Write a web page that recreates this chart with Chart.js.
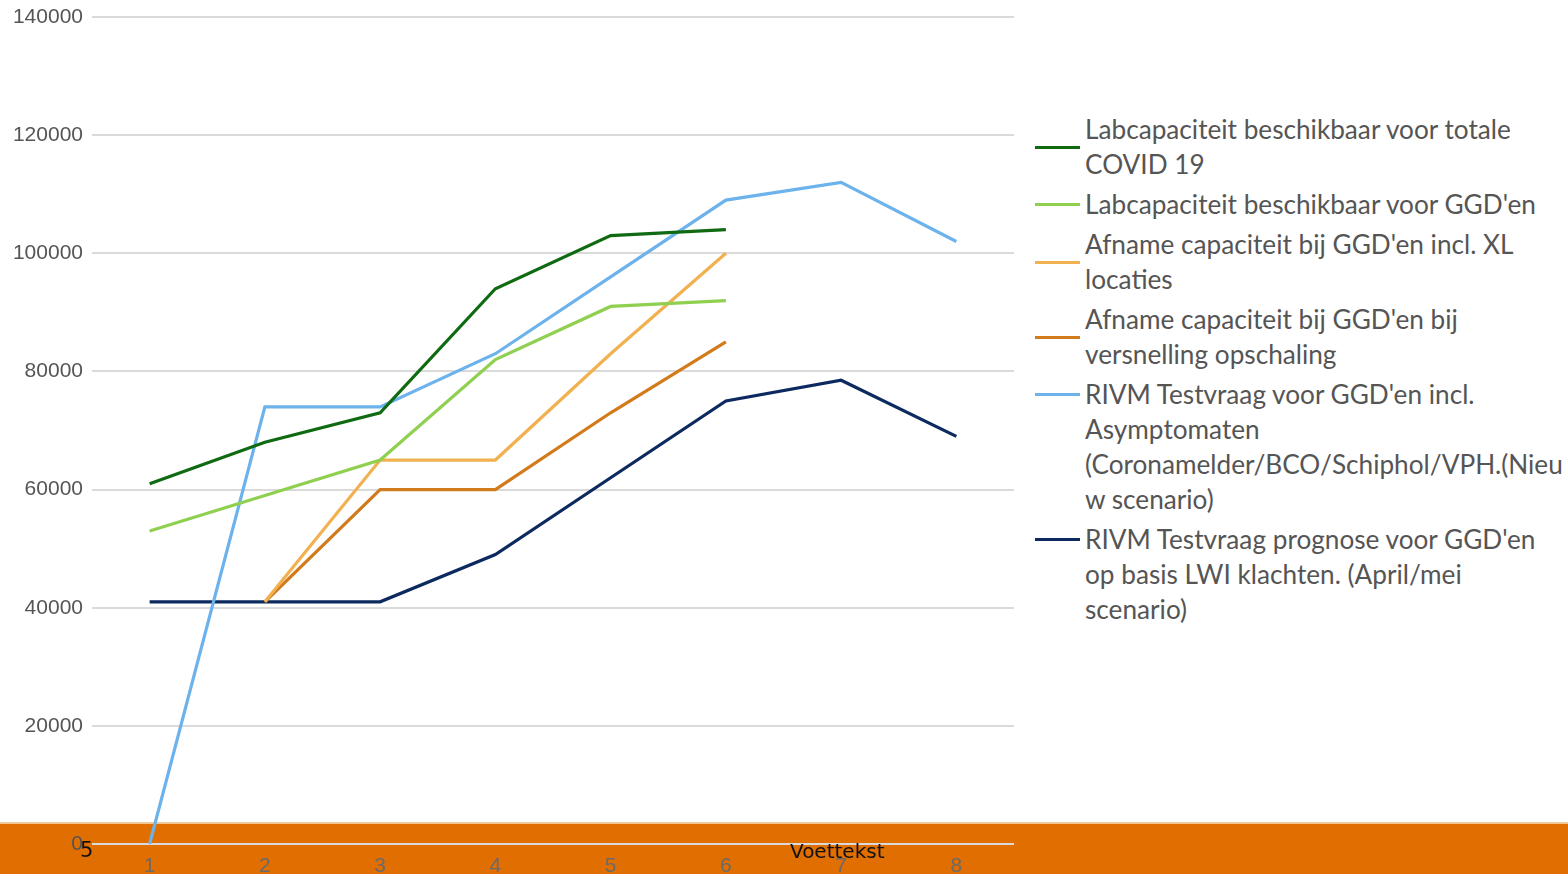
<!DOCTYPE html>
<html>
<head>
<meta charset="utf-8">
<script src="https://cdn.jsdelivr.net/npm/chart.js@4/dist/chart.umd.min.js"></script>
<style>
  html, body { margin: 0; padding: 0; width: 1568px; height: 874px; overflow: hidden; background: #ffffff; }
  #band { position: absolute; left: 0; top: 822px; width: 1568px; height: 52px; background: #e06e00; border-top: 2px solid #f0c89a; box-sizing: border-box; z-index: 0; }
  #wrap { position: absolute; left: 0; top: 0; width: 1030px; height: 900px; z-index: 1; }
  #legend { position: absolute; left: 1035px; top: 112px; z-index: 2; font-family: Lato, "Open Sans", sans-serif; font-size: 26.2px; color: #555555; }
  .item { display: flex; align-items: flex-start; margin-bottom: 5px; }
  .sw-box { width: 50px; display: flex; align-items: center; flex: none; }
  .sw { width: 45px; height: 3px; }
  .txt { line-height: 35px; white-space: nowrap; }
  #pagenum { position: absolute; left: 80px; top: 838px; font-family: "DejaVu Sans", sans-serif; font-size: 21px; color: #111; z-index: 3; line-height: 24px; }
  #footer { position: absolute; left: 790px; top: 839px; font-family: "DejaVu Sans", sans-serif; font-size: 20px; color: #111; z-index: 3; line-height: 24px; }
</style>
</head>
<body>
<div id="band"></div>
<div id="wrap"><canvas id="c"></canvas></div>
<div id="legend"></div>
<div id="pagenum">5</div>
<div id="footer">Voettekst</div>
<script>
const categories = ['1', '2', '3', '4', '5', '6', '7', '8'];
const yTicks = [0, 20000, 40000, 60000, 80000, 100000, 120000, 140000];

const labTotal          = [61000, 68000, 73000, 94000, 103000, 104000, null, null];
const labGGD            = [53000, 59000, 65000, 82000, 91000, 92000, null, null];
const afnameXL          = [null, 41000, 65000, 65000, 83000, 100000, null, null];
const afnameVersnelling = [null, 41000, 60000, 60000, 73000, 85000, null, null];
const rivmAsymptomaten  = [0, 74000, 74000, 83000, 96000, 109000, 112000, 102000];
const rivmLWI           = [41000, 41000, 41000, 49000, 62000, 75000, 78500, 69000];

const seriesNames = [
  ['Labcapaciteit beschikbaar voor totale', 'COVID 19'],
  ["Labcapaciteit beschikbaar voor GGD'en"],
  ["Afname capaciteit bij GGD'en incl. XL", 'locaties'],
  ["Afname capaciteit bij GGD'en bij", 'versnelling opschaling'],
  ["RIVM Testvraag voor GGD'en incl.", 'Asymptomaten', '(Coronamelder/BCO/Schiphol/VPH.(Nieu', 'w scenario)'],
  ["RIVM Testvraag prognose voor GGD'en", 'op basis LWI klachten. (April/mei', 'scenario)']
];
const seriesColors = ['#0f6a12', '#8fd050', '#f2b150', '#d27b1c', '#6cb2ec', '#0c2a5f'];
const seriesData = [labTotal, labGGD, afnameXL, afnameVersnelling, rivmAsymptomaten, rivmLWI];

const datasets = seriesData.map((d, i) => ({
  label: seriesNames[i].join(' '),
  data: d,
  borderColor: seriesColors[i],
  backgroundColor: seriesColors[i],
  borderWidth: 3.2,
  pointRadius: 0,
  tension: 0,
  spanGaps: false
}));

const chart = new Chart(document.getElementById('c'), {
  type: 'line',
  data: { labels: categories, datasets },
  options: {
    responsive: true,
    maintainAspectRatio: false,
    animation: false,
    layout: { padding: { top: 17, right: 16, left: 0, bottom: 0 } },
    plugins: { legend: { display: false }, tooltip: { enabled: false } },
    scales: {
      x: {
        offset: true,
        grid: { display: false, drawTicks: false },
        border: { display: false },
        ticks: { color: '#6a6a6a', font: { family: 'Liberation Sans', size: 21 }, padding: 10, maxRotation: 0 },
        afterFit: (s) => { s.height = 56; s.paddingLeft = 0; s.paddingRight = 0; }
      },
      y: {
        min: 0, max: 140000,
        afterBuildTicks: (s) => { s.ticks = yTicks.map(v => ({ value: v })); },
        grid: { color: '#dadada', lineWidth: 2, drawTicks: false },
        border: { display: false },
        ticks: { color: '#555555', font: { family: 'Liberation Sans', size: 21 }, padding: 9, callback: (v) => String(v) },
        afterFit: (s) => { s.width = 92; s.paddingTop = 0; s.paddingBottom = 0; }
      }
    }
  }
});

const legendEl = document.getElementById('legend');
chart.data.datasets.forEach((ds, i) => {
  const lines = seriesNames[i];
  const item = document.createElement('div');
  item.className = 'item';
  const box = document.createElement('div');
  box.className = 'sw-box';
  box.style.height = (lines.length <= 2 ? lines.length * 35 : 35) + 'px';
  const sw = document.createElement('div');
  sw.className = 'sw';
  sw.style.background = ds.borderColor;
  box.appendChild(sw);
  const txt = document.createElement('div');
  txt.className = 'txt';
  txt.innerHTML = lines.map(l => l.replace(/&/g, '&amp;').replace(/</g, '&lt;')).join('<br>');
  item.appendChild(box);
  item.appendChild(txt);
  legendEl.appendChild(item);
});
</script>
</body>
</html>
